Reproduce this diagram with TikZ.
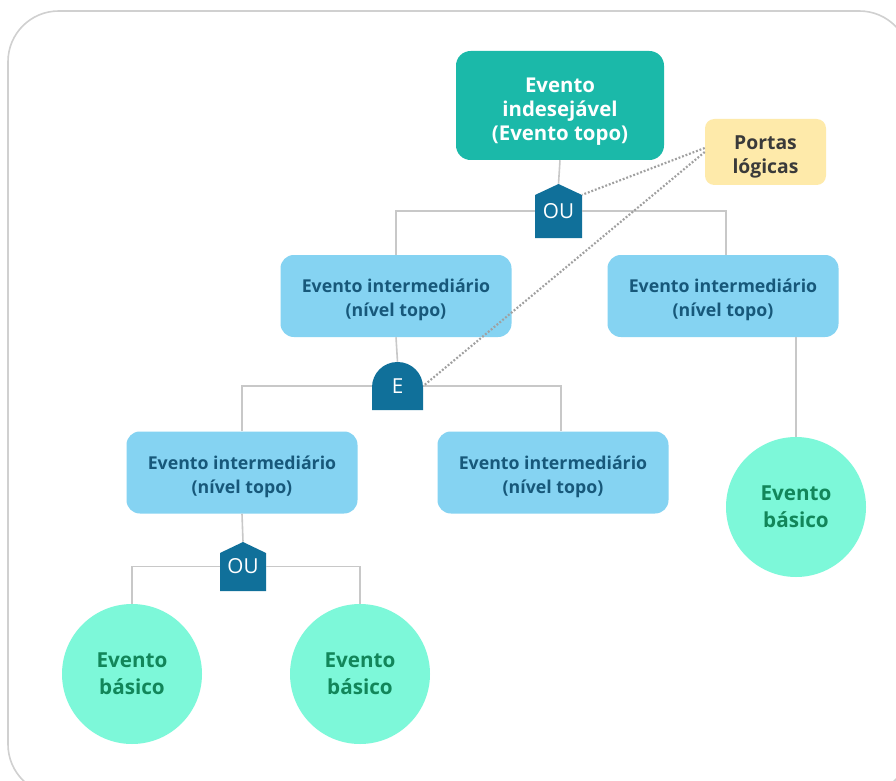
\documentclass[tikz,border=0pt]{standalone}
\usepackage{fontspec}
\setmainfont{Open Sans}
\definecolor{topc}{HTML}{1BB9A9}
\definecolor{midc}{HTML}{85D3F2}
\definecolor{midt}{HTML}{17587A}
\definecolor{gatec}{HTML}{10709A}
\definecolor{basc}{HTML}{7DF8D9}
\definecolor{bast}{HTML}{12865A}
\definecolor{portc}{HTML}{FEEAAA}
\definecolor{portt}{HTML}{3A3A3A}
\definecolor{linec}{HTML}{C8C8C8}
\definecolor{framec}{HTML}{D0D0D0}
\definecolor{dotc}{HTML}{A0A0A0}
\begin{document}
\begin{tikzpicture}[x=0.75pt,y=-0.75pt,
  txt/.style={align=center, inner sep=0pt},
  topbox/.style={txt, text depth=0pt, text height=52pt, font=\bfseries\fontsize{15.3}{18}\selectfont, fill=topc, text=white, rounded corners=11pt, minimum width=156pt, minimum height=81.75pt},
  midbox/.style={txt, text depth=0pt, text height=31pt, font=\bfseries\fontsize{13.3}{18}\selectfont, fill=midc, text=midt, rounded corners=10pt, minimum width=173.25pt, minimum height=61.5pt},
  portbox/.style={txt, text depth=0pt, text height=32pt, font=\bfseries\fontsize{14.5}{18}\selectfont, fill=portc, text=portt, rounded corners=7pt, minimum width=90.75pt, minimum height=49.5pt},
  basic/.style={txt, font=\bfseries\fontsize{15.5}{20}\selectfont, circle, fill=basc, text=bast, minimum size=105pt},
  gatetxt/.style={font=\fontsize{15.5}{18}\selectfont, text=white, inner sep=0pt},
  orgate/.style={gatetxt, path picture={\fill[gatec] (path picture bounding box.south west) -- (path picture bounding box.south east) -- ([yshift=-8.25pt]path picture bounding box.north east) -- (path picture bounding box.north) -- ([yshift=-8.25pt]path picture bounding box.north west) -- cycle;}},
  andgate/.style={gatetxt, path picture={\fill[gatec] (path picture bounding box.south west) [rounded corners=19pt] -- (path picture bounding box.north west) -- (path picture bounding box.north east) [sharp corners] -- (path picture bounding box.south east) -- cycle;}},
  conn/.style={draw=linec, line width=1.2pt},
  dots/.style={draw=dotc, line width=1.6pt, dash pattern=on 1.4pt off 1.4pt}
]
\useasboundingbox (0,0) rectangle (896,781);
\clip (0,0) rectangle (896,781);
\fill[white] (0,0) rectangle (896,781);
\draw[framec, line width=1.2pt, rounded corners=38pt] (8,11) rectangle (910,795);

% nodes
\node[topbox] (top) at (560,105.5) {Evento\\indesejável\\(Evento topo)};
\node[portbox] (port) at (765.5,152) {Portas\\lógicas};
\node[orgate, minimum width=35.25pt, minimum height=40.5pt] (g1) at (558.5,211) {OU};
\node[midbox] (int1) at (396,296) {Evento intermediário\\(nível topo)};
\node[midbox] (int2) at (723,296) {Evento intermediário\\(nível topo)};
\node[andgate, minimum width=38.25pt, minimum height=36pt] (g2) at (397.5,386) {E};
\node[midbox] (int3) at (242,472.5) {Evento intermediário\\(nível topo)};
\node[midbox] (int4) at (553,472.5) {Evento intermediário\\(nível topo)};
\node[orgate, minimum width=34.5pt, minimum height=36.75pt] (g3) at (243,566.5) {OU};
\node[basic] (c1) at (132,674) {Evento\\básico};
\node[basic] (c2) at (360,674) {Evento\\básico};
\node[basic] (c3) at (796,507) {Evento\\básico};

% connectors
\path[conn] (top.south) -- (g1.north);
\path[conn] (int1.north) |- (g1.west);
\path[conn] ([xshift=2.25pt]int2.north) |- (g1.east);
\path[conn] (int1.south) -- (g2.north);
\path[conn] (int3.north) |- (g2.west);
\path[conn] ([xshift=6pt]int4.north) |- (g2.east);
\path[conn] (c3.north) -- (c3.north |- int2.south);
\path[conn] (int3.south) -- (g3.north);
\path[conn] (c1.north) |- (g3.west);
\path[conn] (c2.north) |- (g3.east);
\path[dots] ([yshift=3pt]port.west) -- ([yshift=-8.25pt]g1.north east);
\path[dots] (port.west) -- (g2.east);
\end{tikzpicture}
\end{document}
